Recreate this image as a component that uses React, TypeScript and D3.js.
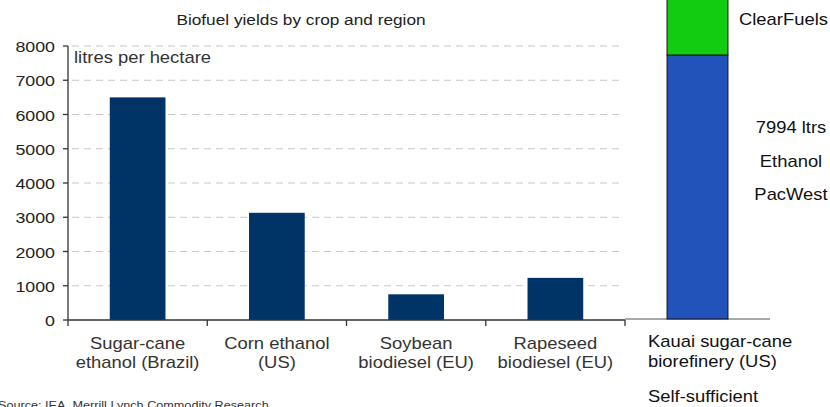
import React from "react";
import * as d3 from "d3";

// main chart: litres per hectare
const categories = [
  ["Sugar-cane", "ethanol (Brazil)"],
  ["Corn ethanol", "(US)"],
  ["Soybean", "biodiesel (EU)"],
  ["Rapeseed", "biodiesel (EU)"],
];
const yields = [6500, 3130, 750, 1230];
const yTicks = [0, 1000, 2000, 3000, 4000, 5000, 6000, 7000, 8000];

// Kauai inset bar
const kauaiLabel = ["Kauai sugar-cane", "biorefinery (US)"];
const kauaiStack = [
  { name: "Ethanol PacWest", value: 7994 },
  { name: "ClearFuels", value: 2000 },
];
const sideNotes = ["7994 ltrs", "Ethanol", "PacWest"];

const FONT = "'Liberation Sans', Arial, sans-serif";
const SX = 1.15;

function T({ x, y, anchor = "start", size = 16, fill = "#333", children }: any) {
  return (
    <text
      transform={`translate(${x},${y}) scale(${SX},1)`}
      textAnchor={anchor}
      fontSize={size}
      fontFamily={FONT}
      fill={fill}
    >
      {children}
    </text>
  );
}

export default function App() {
  const width = 830;
  const height = 407;
  const margin = { top: 46, left: 68, bottom: 320 };

  const y = d3.scaleLinear().domain([0, 8000]).range([margin.bottom, margin.top]);
  const x = d3
    .scaleBand()
    .domain(categories.map((c) => c.join(" ")))
    .range([margin.left, 625]);
  const bw = x.bandwidth();

  // inset scales
  const xi = d3.scaleBand().domain([kauaiLabel.join(" ")]).range([625, 770]);
  const yi = d3.scaleLinear().domain([0, 7994]).range([319, 55]);
  const ibw = xi.bandwidth();
  const ix0 = (xi(kauaiLabel.join(" ")) as number) + ibw * 0.29;
  let acc = 0;
  const stacked = kauaiStack.map((d) => {
    const s = { ...d, y0: acc, y1: acc + d.value };
    acc += d.value;
    return s;
  });
  const stackColors = ["#2253BB", "#11CC11"];

  return (
    <svg
      width={width}
      height={height}
      style={{ position: "absolute", left: 0, top: 0, background: "#fff" }}
    >
      <T x={301} y={25} anchor="middle" size={15} fill="#222">
        Biofuel yields by crop and region
      </T>

      {/* gridlines */}
      {yTicks.slice(1).map((t) => (
        <line
          key={t}
          x1={margin.left + 4}
          x2={622}
          y1={y(t)}
          y2={y(t)}
          stroke="#c8c8c8"
          strokeDasharray="7,5"
        />
      ))}

      {/* bars */}
      {categories.map((c, i) => (
        <rect
          key={i}
          x={(x(c.join(" ")) as number) + bw * 0.3}
          y={y(yields[i])}
          width={bw * 0.4}
          height={y(0) - y(yields[i])}
          fill="#003366"
        />
      ))}

      {/* y axis */}
      <line x1={margin.left} x2={margin.left} y1={y(8000)} y2={y(0)} stroke="#333" strokeWidth={1.3} />
      {yTicks.map((t) => (
        <g key={t}>
          <line x1={margin.left - 5} x2={margin.left} y1={y(t)} y2={y(t)} stroke="#333" strokeWidth={1.3} />
          <T x={55} y={y(t) + 6} anchor="end" size={15.5} fill="#222">
            {t}
          </T>
        </g>
      ))}
      <T x={74} y={63} size={16} fill="#333">
        litres per hectare
      </T>

      {/* x axis */}
      <line x1={margin.left} x2={625} y1={y(0)} y2={y(0)} stroke="#333" strokeWidth={1.3} />
      {[...categories.map((c) => x(c.join(" ")) as number), 625].map((tx, i) => (
        <line key={i} x1={tx} x2={tx} y1={y(0)} y2={y(0) + 6} stroke="#333" strokeWidth={1.3} />
      ))}
      {categories.map((c, i) => {
        const cx = (x(c.join(" ")) as number) + bw / 2;
        return (
          <g key={i}>
            <T x={cx} y={349} anchor="middle" fill="#333">
              {c[0]}
            </T>
            <T x={cx} y={368} anchor="middle" fill="#333">
              {c[1]}
            </T>
          </g>
        );
      })}

      {/* inset */}
      <line x1={625} x2={770} y1={319} y2={319} stroke="#555" strokeWidth={1.2} />
      {stacked.map((s, i) => (
        <rect
          key={s.name}
          x={ix0}
          y={yi(s.y1)}
          width={ibw * 0.42}
          height={yi(s.y0) - yi(s.y1)}
          fill={stackColors[i]}
          stroke="#111"
          strokeWidth={1}
        />
      ))}
      <T x={739} y={25} fill="#111">
        ClearFuels
      </T>
      {sideNotes.map((n, i) => (
        <T key={n} x={791} y={133 + i * 33.5} anchor="middle" fill="#111">
          {n}
        </T>
      ))}
      <T x={648} y={347} fill="#111">
        {kauaiLabel[0]}
      </T>
      <T x={648} y={367} fill="#111">
        {kauaiLabel[1]}
      </T>
      <T x={648} y={402} fill="#111">
        Self-sufficient
      </T>

      <T x={-2} y={409} size={11} fill="#333">
        Source: IEA, Merrill Lynch Commodity Research
      </T>
    </svg>
  );
}
